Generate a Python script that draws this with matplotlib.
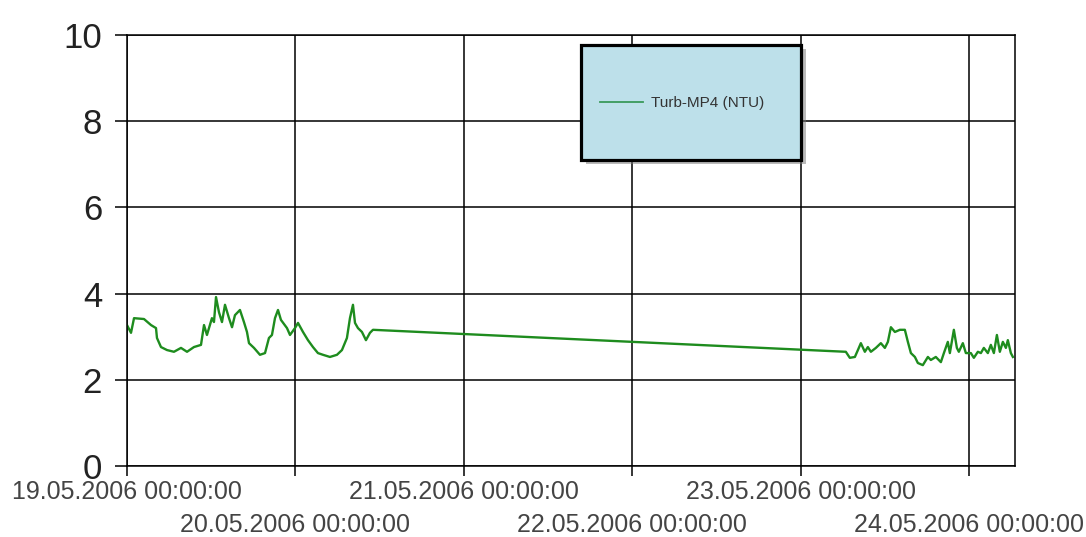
import pandas as pd
import matplotlib
matplotlib.use("Agg")
import matplotlib.pyplot as plt
import matplotlib.dates as mdates
from matplotlib.patches import Rectangle

plt.rcParams['font.family'] = ['Liberation Sans', 'DejaVu Sans']

# hours after 19.05.2006 00:00:00, turbidity in NTU
hours = [0.0, 0.57, 1.0, 2.42, 3.42, 4.13, 4.27, 4.84, 5.70, 6.69, 7.69, 8.55,
         9.54, 10.54, 10.97, 11.39, 12.1, 12.39, 12.68, 13.1, 13.53, 13.96,
         14.53, 14.96, 15.38, 16.09, 16.66, 17.09, 17.38, 18.09, 18.94, 19.66,
         20.22, 20.65, 21.08, 21.51, 21.93, 22.79, 23.22, 23.93, 24.36, 25.07,
         25.78, 26.49, 27.2, 27.92, 28.91, 29.91, 30.62, 31.33, 31.76, 32.19,
         32.48, 32.9, 33.47, 34.04, 34.61, 35.04,
         102.4, 102.97, 103.69, 104.12, 104.54, 105.11, 105.54, 105.97, 106.68,
         107.39, 107.96, 108.39, 108.82, 109.39, 110.1, 110.81, 111.24, 111.67,
         112.24, 112.66, 113.37, 114.09, 114.51, 115.22, 115.94, 116.37, 116.93,
         117.22, 117.79, 118.22, 118.5, 119.07, 119.5, 120.21, 120.64, 121.21,
         121.64, 122.06, 122.63, 123.06, 123.49, 123.92, 124.34, 124.77, 125.2,
         125.48, 125.91, 126.2]
turb = [3.27, 3.09, 3.43, 3.41, 3.27, 3.2, 2.97, 2.76, 2.69, 2.65, 2.74, 2.65,
        2.76, 2.81, 3.27, 3.04, 3.43, 3.34, 3.92, 3.57, 3.34, 3.74,
        3.43, 3.22, 3.5, 3.62, 3.34, 3.11, 2.85, 2.74, 2.58, 2.62,
        2.97, 3.04, 3.43, 3.62, 3.39, 3.2, 3.04, 3.2, 3.32, 3.11,
        2.92, 2.76, 2.62, 2.58, 2.53, 2.58, 2.69, 2.97, 3.43, 3.74,
        3.32, 3.2, 3.11, 2.92, 3.09, 3.16,
        2.65, 2.51, 2.53, 2.69, 2.85, 2.65, 2.76, 2.65, 2.74,
        2.85, 2.74, 2.88, 3.22, 3.11, 3.16, 3.16, 2.88, 2.62,
        2.53, 2.39, 2.34, 2.53, 2.46, 2.53, 2.41, 2.62, 2.88,
        2.62, 3.16, 2.74, 2.65, 2.85, 2.62, 2.62, 2.51, 2.65,
        2.62, 2.74, 2.62, 2.81, 2.62, 3.04, 2.65, 2.88, 2.74,
        2.92, 2.62, 2.53]

start = pd.Timestamp('2006-05-19 00:00:00')
end_hours = 126.5
times = start + pd.to_timedelta(hours, unit='h')

fig = plt.figure(figsize=(10.86, 5.37), dpi=100)
ax = fig.add_axes([127 / 1086, 1 - 466 / 537, (1015 - 127) / 1086, (466 - 35) / 537])

ax.plot(times, turb, color='#1e8c1e', lw=1.7, label='Turb-MP4 (NTU)')

ax.set_ylim(0, 10)
ax.set_yticks(range(0, 11, 2))
ax.set_xlim(start, start + pd.Timedelta(hours=end_hours))
ax.xaxis.set_major_locator(mdates.DayLocator())
ax.xaxis.set_major_formatter(mdates.DateFormatter('%d.%m.%Y %H:%M:%S'))

ax.grid(True, color='black', lw=1.1)
for sp in ax.spines.values():
    sp.set_color('black')
    sp.set_linewidth(1.1)

ax.tick_params(axis='y', labelsize=25, labelcolor='#222222', length=9, width=1.1, pad=9)
ax.tick_params(axis='x', labelsize=18, labelcolor='#444444', length=7, width=1.1, pad=3)

# stagger the date labels on two rows
for i, tick in enumerate(ax.xaxis.get_major_ticks()):
    if i % 2 == 1:
        tick.set_pad(27)

# legend box with drop shadow
W, H = 1086, 537
bx0, by0, bx1, by1 = 581, 45, 801, 160
fig.patches.append(Rectangle(((bx0 + 5) / W, 1 - (by1 + 4) / H), (bx1 - bx0) / W, (by1 - by0) / H,
                             transform=fig.transFigure, facecolor='#777777', edgecolor='none',
                             alpha=0.5, zorder=3))
fig.patches.append(Rectangle((bx0 / W, 1 - by1 / H), (bx1 - bx0) / W, (by1 - by0) / H,
                             transform=fig.transFigure, facecolor='#bde0ea', edgecolor='black',
                             lw=2.3, zorder=4))
leg = fig.legend(loc='center', bbox_to_anchor=(682 / W, 1 - 103 / H), frameon=False,
                 fontsize=11, handlelength=2.8, handletextpad=0.55)
leg.set_zorder(6)
for t in leg.get_texts():
    t.set_color('#333333')
for l in leg.get_lines():
    l.set_color('#3a9a5a')
    l.set_linewidth(1.3)

fig.savefig('out.png', dpi=100)
